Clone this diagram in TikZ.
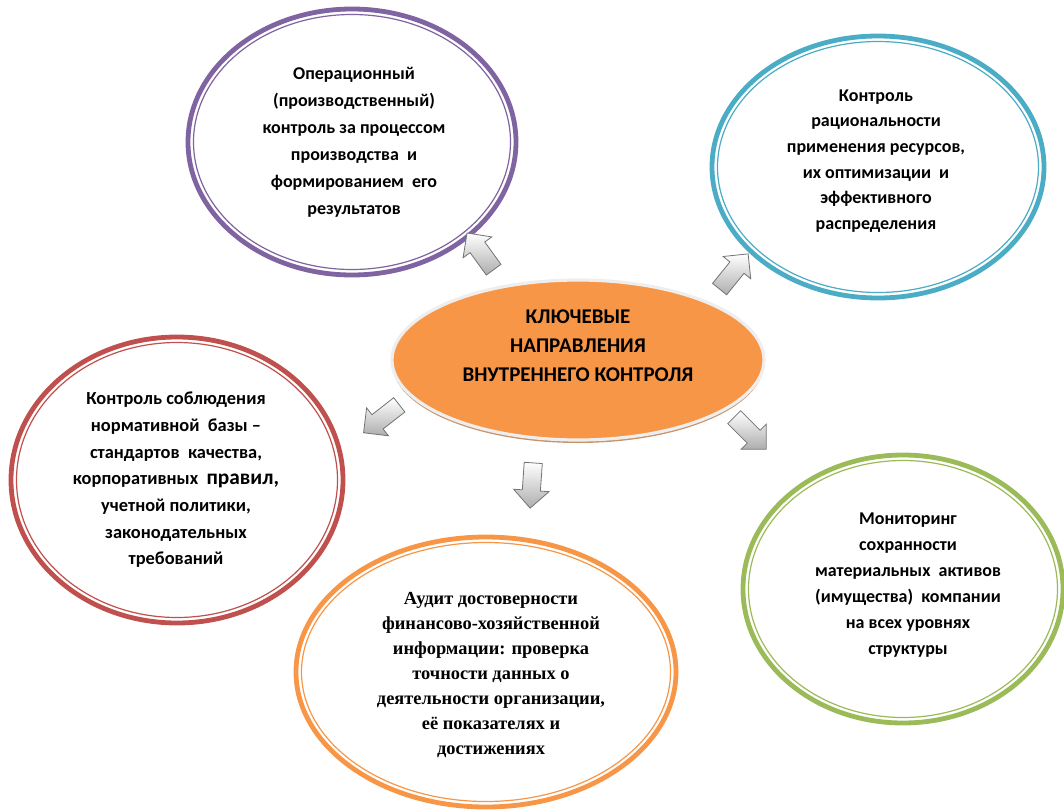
\documentclass[tikz,border=0pt]{standalone}
\usepackage{fontspec}
\setmainfont{Carlito}
\newfontfamily\serifb{Liberation Serif}
\usetikzlibrary{shapes.geometric,shapes.arrows}
\definecolor{cpurple}{HTML}{8064A2}
\definecolor{cblue}{HTML}{4BACC6}
\definecolor{cred}{HTML}{C0504D}
\definecolor{corange}{HTML}{F79646}
\definecolor{cgreen}{HTML}{9BBB59}
\definecolor{cshadow}{HTML}{C8926A}
\definecolor{crim}{HTML}{EEEEEE}
\tikzset{
  bubble/.style={ellipse, draw=#1, line width=3.6pt, fill=white, inner sep=0pt},
  inring/.style={draw=#1, line width=0.9pt},
  btext/.style={align=center, inner sep=0pt, font=\bfseries\fontsize{13.5}{#1}\selectfont},
  stext/.style={align=center, inner sep=0pt, font=\serifb\bfseries\fontsize{13.8}{#1}\selectfont},
  garrow/.style={single arrow, draw=black!55, top color=white, bottom color=black!32,
    minimum height=34pt, minimum width=0pt, single arrow head extend=6.5pt,
    inner xsep=0pt, inner ysep=6.5pt, line width=0.6pt},
}
\newcommand\bubble[6]{%
  \node[bubble=#2, minimum width=1.5*#5pt, minimum height=1.5*#6pt] (#1) at (#3,#4) {};
  \draw[inring=#2] (#1.center) ellipse [x radius={0.75*(#5-5.5)*1pt}, y radius={0.75*(#6-5.5)*1pt}];
}
\begin{document}
\begin{tikzpicture}[x=0.75pt,y=-0.75pt]
\useasboundingbox (0,0) rectangle (1064,811);
% outer bubbles
\bubble{op}{cpurple}{352}{142}{164}{133}
\bubble{rs}{cblue}{878}{167}{166}{131}
\bubble{nb}{cred}{177}{480}{166}{143}
\bubble{au}{corange}{486}{672}{190}{135}
\bubble{mn}{cgreen}{903}{589}{160}{134}
% central ellipse
\node[ellipse, fill=cshadow, minimum width=1.5*186pt, minimum height=1.5*80pt, inner sep=0pt] (csh) at (578,363) {};
\node[ellipse, fill=corange, draw=crim, line width=2.4pt, minimum width=1.5*186pt, minimum height=1.5*80pt, inner sep=0pt] (c) at (578,360) {};
\node[align=center, inner sep=0pt, font=\bfseries\fontsize{15.7}{21.75}\selectfont] (ct) at (578,346)
  {КЛЮЧЕВЫЕ\\НАПРАВЛЕНИЯ\\ВНУТРЕННЕГО КОНТРОЛЯ};
% texts
\node[btext=20.25pt] (opt) at (354,142) {Операционный\\(производственный)\\контроль за процессом\\производства\ \ и\\формированием\ \ его\\результатов};
\node[btext=19.2pt] (rst) at (876,161) {Контроль\\рациональности\\применения ресурсов,\\их оптимизации\ \ и\\эффективного\\распределения};
\node[align=center, inner sep=0pt, font=\bfseries\fontsize{13.8}{20}\selectfont] (nbt) at (176,480) {Контроль соблюдения\\нормативной\ \ базы –\\стандартов\ \ качества,\\корпоративных\ \ {\fontsize{16}{20}\selectfont правил,}\\учетной политики,\\законодательных\\требований};
\node[stext=18.75pt] (aut) at (491,675) {Аудит достоверности\\финансово-хозяйственной\\информации: проверка\\точности данных о\\деятельности организации,\\её показателях и\\достижениях};
\node[btext=19.5pt] (mnt) at (908,585) {Мониторинг\\сохранности\\материальных\ \ активов\\(имущества)\ \ компании\\на всех уровнях\\структуры};
% arrows
\node[garrow, rotate=126] (a1) at (483,255) {};
\node[garrow, rotate=51] (a2) at (731,275) {};
\node[garrow, rotate=218] (a3) at (385,416) {};
\node[garrow, rotate=266] (a4) at (532,481) {};
\node[garrow, rotate=-45] (a5) at (747,430) {};
\end{tikzpicture}
\end{document}
